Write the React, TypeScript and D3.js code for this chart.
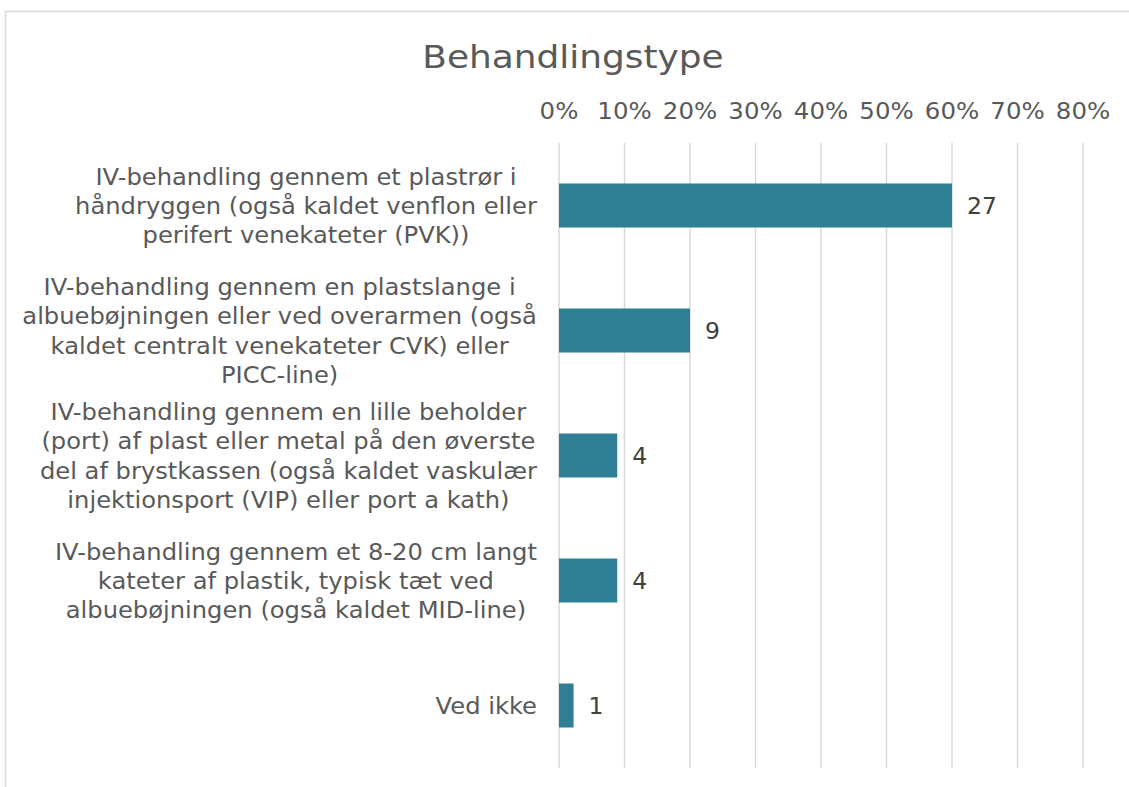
import React, { useEffect, useRef } from "react";
import * as d3 from "d3";

const categories: string[][] = [
  ["IV-behandling gennem et plastrør i", "håndryggen (også kaldet venflon eller", "perifert venekateter (PVK))"],
  ["IV-behandling gennem en plastslange i", "albuebøjningen eller ved overarmen (også", "kaldet centralt venekateter CVK) eller", "PICC-line)"],
  ["IV-behandling gennem en lille beholder", "(port) af plast eller metal på den øverste", "del af brystkassen (også kaldet vaskulær", "injektionsport (VIP) eller port a kath)"],
  ["IV-behandling gennem et 8-20 cm langt", "kateter af plastik, typisk tæt ved", "albuebøjningen (også kaldet MID-line)"],
  ["Ved ikke"],
];
const counts = [27, 9, 4, 4, 1];
const tickValues = [0, 0.1, 0.2, 0.3, 0.4, 0.5, 0.6, 0.7, 0.8];
const title = "Behandlingstype";

const W = 1129;
const H = 787;
const FONT = "'DejaVu Sans', Verdana, sans-serif";

export default function App() {
  const ref = useRef<SVGSVGElement>(null);

  useEffect(() => {
    const svg = d3.select(ref.current);
    svg.selectAll("*").remove();
    const total = d3.sum(counts);
    const shares = counts.map((c) => c / total);

    const x = d3.scaleLinear().domain([0, 0.8]).range([559, 1083]);
    const y = d3
      .scaleBand<number>()
      .domain(d3.range(categories.length))
      .range([143, 768])
      .paddingInner(0.648)
      .paddingOuter(0.324);

    svg.append("rect").attr("x", 0).attr("y", 0).attr("width", W).attr("height", H).attr("fill", "#fff");
    svg
      .append("rect")
      .attr("x", 5.5)
      .attr("y", 11.5)
      .attr("width", 1300)
      .attr("height", 1000)
      .attr("fill", "none")
      .attr("stroke", "#d9d9d9")
      .attr("stroke-width", 1.5);

    svg
      .append("text")
      .attr("transform", "translate(573,67.5) scale(1.14,1)")
      .attr("text-anchor", "middle")
      .attr("font-family", FONT)
      .attr("font-size", 31.5)
      .attr("fill", "#595959")
      .text(title);

    // gridlines
    svg
      .append("g")
      .selectAll("line")
      .data(tickValues)
      .join("line")
      .attr("x1", (d) => x(d))
      .attr("x2", (d) => x(d))
      .attr("y1", 143)
      .attr("y2", 768)
      .attr("stroke", "#d9d9d9")
      .attr("stroke-width", 1.5);

    // tick labels
    svg
      .append("g")
      .selectAll("text")
      .data(tickValues)
      .join("text")
      .attr("transform", (d) => `translate(${x(d)},119) scale(1.04,1)`)
      .attr("text-anchor", "middle")
      .attr("font-family", FONT)
      .attr("font-size", 23.5)
      .attr("fill", "#595959")
      .text((d) => d3.format(".0%")(d));

    // bars
    svg
      .append("g")
      .selectAll("rect")
      .data(shares)
      .join("rect")
      .attr("x", x(0))
      .attr("y", (_, i) => y(i)!)
      .attr("width", (d) => x(d) - x(0))
      .attr("height", y.bandwidth())
      .attr("fill", "#2e7f94");

    // data labels
    svg
      .append("g")
      .selectAll("text")
      .data(shares)
      .join("text")
      .attr("x", (d) => x(d) + 15)
      .attr("y", (_, i) => y(i)! + y.bandwidth() / 2 + 8.5)
      .attr("font-family", FONT)
      .attr("font-size", 23.5)
      .attr("fill", "#404040")
      .text((_, i) => String(counts[i]));

    // category labels
    const rightEdge = 537;
    const lh = 29.4;
    const sx = 1.03;
    categories.forEach((lines, i) => {
      const cy = y(i)! + y.bandwidth() / 2;
      const g = svg.append("g");
      const texts = g
        .selectAll("text")
        .data(lines)
        .join("text")
        .attr("text-anchor", "middle")
        .attr("font-family", FONT)
        .attr("font-size", 23.5)
        .attr("fill", "#595959")
        .text((d) => d);
      let maxW = 0;
      texts.each(function () {
        const w = (this as SVGTextElement).getComputedTextLength();
        if (w > maxW) maxW = w;
      });
      const cx = rightEdge - (maxW * sx) / 2;
      texts.attr(
        "transform",
        (_, j) => `translate(${cx},${cy + (j - (lines.length - 1) / 2) * lh + 8.5}) scale(${sx},1)`
      );
    });
  }, []);

  return (
    <svg
      ref={ref}
      width={W}
      height={H}
      style={{ position: "absolute", left: 0, top: 0, display: "block" }}
    />
  );
}
